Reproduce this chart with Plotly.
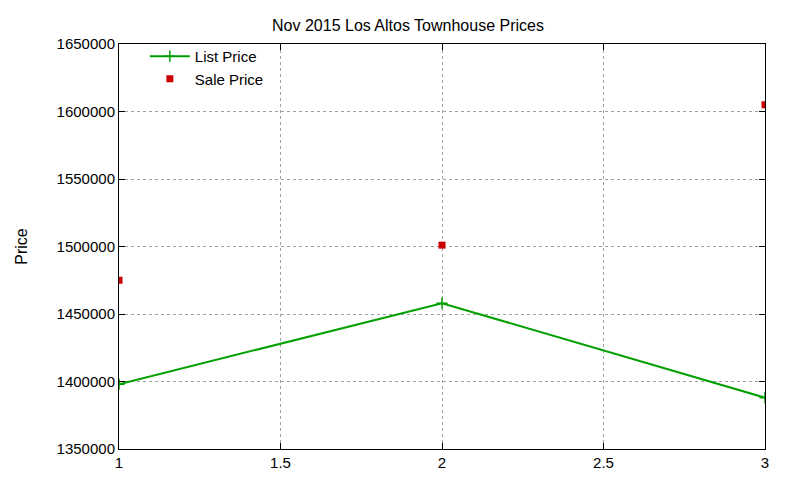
import plotly.graph_objects as go

x_vals = [1, 2, 3]
list_price = [1398000, 1458000, 1388000]
sale_price = [1475000, 1501000, 1605000]
y_ticks = [1350000, 1400000, 1450000, 1500000, 1550000, 1600000, 1650000]
x_ticks = [1, 1.5, 2, 2.5, 3]

fig = go.Figure()
fig.add_trace(go.Scatter(x=x_vals, y=list_price, mode="lines+markers", name="List Price",
                         line=dict(color="#00a000", width=2),
                         marker=dict(symbol="cross-thin", size=8, line=dict(color="#00a000", width=1.5))))
fig.add_trace(go.Scatter(x=x_vals, y=sale_price, mode="markers", name="Sale Price",
                         marker=dict(symbol="square", size=7, color="#cc0000")))
ax = dict(showline=True, mirror="ticks", linecolor="black", linewidth=1, ticks="inside",
          ticklen=6, tickcolor="black", showgrid=True, gridcolor="#a0a0a0", griddash="dot",
          zeroline=False, tickfont=dict(size=15, color="black"))
fig.update_xaxes(range=[1, 3], tickvals=x_ticks, ticktext=["1", "1.5", "2", "2.5", "3"], **ax)
fig.update_yaxes(range=[1350000, 1650000], tickvals=y_ticks, ticktext=[str(v) for v in y_ticks],
                 title=dict(text="Price", font=dict(size=16, color="black"), standoff=24), **ax)
fig.update_layout(width=800, height=480, plot_bgcolor="white", paper_bgcolor="white",
                  font=dict(family="Liberation Sans, Arial, sans-serif", color="black"),
                  margin=dict(l=111, r=43, t=36, b=39),
                  title=dict(text="Nov 2015 Los Altos Townhouse Prices", x=0.5, y=0.975,
                             xanchor="center", font=dict(size=16, color="black")),
                  legend=dict(x=0.04, y=1.01, xanchor="left", yanchor="top", bgcolor="rgba(0,0,0,0)",
                              font=dict(size=15), itemwidth=40, tracegroupgap=0))
fig.write_html("out.html")
